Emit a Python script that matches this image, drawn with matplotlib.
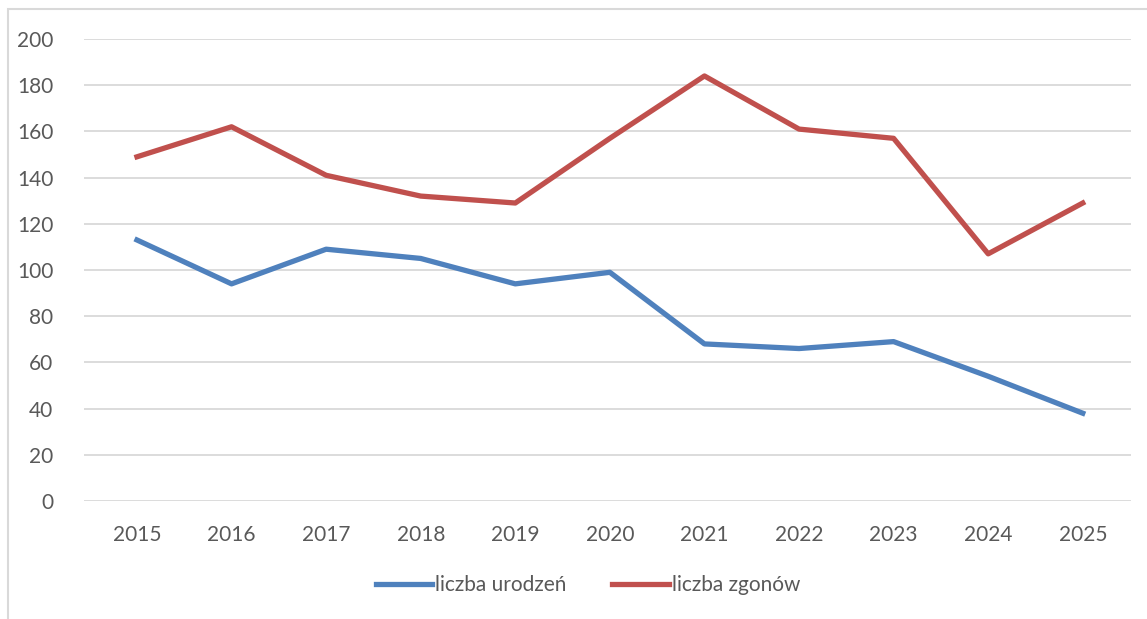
import matplotlib
matplotlib.use("Agg")
import matplotlib.pyplot as plt
from matplotlib.patches import Rectangle

years = ["2015", "2016", "2017", "2018", "2019", "2020", "2021", "2022", "2023", "2024", "2025"]
urodzenia = [113, 94, 109, 105, 94, 99, 68, 66, 69, 54, 38]
zgony = [149, 162, 141, 132, 129, 157, 184, 161, 157, 107, 129]
series_names = ["liczba urodzeń", "liczba zgonów"]
yticks = [0, 20, 40, 60, 80, 100, 120, 140, 160, 180, 200]

plt.rcParams['font.family'] = ['Lato', 'DejaVu Sans']
txt = '#595959'

W, H = 1147, 619
fig = plt.figure(figsize=(W/100, H/100), dpi=100)
ax = fig.add_axes([84/W, 1-501/H, (1131-84)/W, (501-39)/H])

x = list(range(len(years)))
ax.plot(x, urodzenia, color='#4F81BD', lw=3.8, solid_joinstyle='round', label=series_names[0], zorder=3)
ax.plot(x, zgony, color='#C0504D', lw=3.8, solid_joinstyle='round', label=series_names[1], zorder=3)

ax.set_ylim(0, 200)
ax.set_xlim(-0.56, 10.51)
ax.set_yticks(yticks)
ax.set_xticks(x)
ax.set_xticklabels(years)
ax.grid(axis='y', color='#D9D9D9', lw=1.3)
ax.set_axisbelow(True)
for s in ax.spines.values():
    s.set_visible(False)
ax.tick_params(length=0, colors=txt, labelsize=15)
ax.tick_params(axis='y', pad=22)
ax.tick_params(axis='x', pad=17)

leg = fig.legend(loc='center', bbox_to_anchor=(588/W, 1-585/H), ncol=2, frameon=False,
                 fontsize=15, handlelength=2.7, handletextpad=0.15, columnspacing=2.2)
for t in leg.get_texts():
    t.set_color(txt)

fig.patches.append(Rectangle((8/W, -0.1), 1.2, 1-9/H+0.1, transform=fig.transFigure,
                             fill=False, edgecolor='#D9D9D9', lw=1.5))

fig.savefig('out.png', dpi=100)
